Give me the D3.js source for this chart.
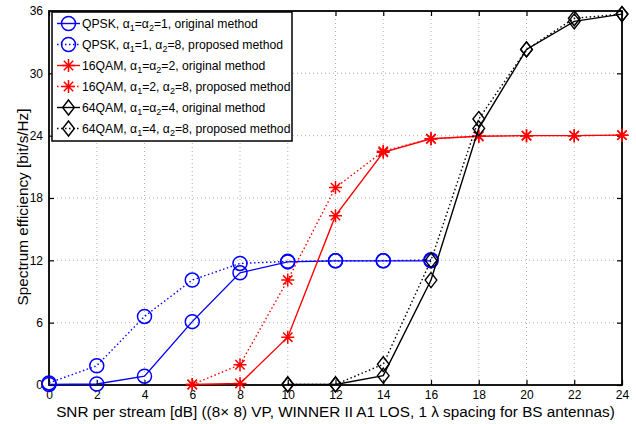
<!DOCTYPE html>
<html>
<head>
<meta charset="utf-8">
<script src="https://cdn.jsdelivr.net/npm/d3@7"></script>
<style>
  html, body { margin: 0; padding: 0; background: #fff; }
  svg { display: block; font-family: "Liberation Sans", Arial, Helvetica, sans-serif; }
</style>
</head>
<body>
<svg id="chart" width="636" height="424"></svg>
<script>
// SNR grid points [dB]
const snrQpsk = [0, 2, 4, 6, 8, 10, 12, 14, 16];
const snr16 = [6, 8, 10, 12, 14, 16, 18, 20, 22, 24];
const snr64 = [10, 12, 14, 16, 18, 20, 22, 24];

// Spectrum efficiency [bit/s/Hz]
const qpskOriginal = [0.05, 0.1, 0.85, 6.1, 10.8, 11.85, 11.95, 11.95, 11.95];
const qpskProposed = [0.2, 1.85, 6.6, 10.1, 11.7, 11.9, 11.95, 11.95, 12.05];
const qam16Original = [0.05, 0.15, 4.6, 16.3, 22.4, 23.7, 23.95, 24.0, 24.0, 24.05];
const qam16Proposed = [0.05, 1.95, 10.1, 19.0, 22.5, 23.7, 23.95, 24.0, 24.0, 24.05];
const qam64Original = [0.05, 0.05, 0.9, 10.1, 24.7, 32.3, 35.0, 35.7];
const qam64Proposed = [0.05, 0.05, 2.0, 12.0, 25.6, 32.3, 35.3, 35.7];

const xTicks = [0, 2, 4, 6, 8, 10, 12, 14, 16, 18, 20, 22, 24];
const yTicks = [0, 6, 12, 18, 24, 30, 36];

const series = [
  { x: snrQpsk, y: qpskOriginal, color: "#0000ff", dash: null, marker: "circle",
    label: ["QPSK, α", "1", "=α", "2", "=1, original method"] },
  { x: snrQpsk, y: qpskProposed, color: "#0000ff", dash: "1.5,2.5", marker: "circle",
    label: ["QPSK, α", "1", "=1, α", "2", "=8, proposed method"] },
  { x: snr16, y: qam16Original, color: "#ff0000", dash: null, marker: "star",
    label: ["16QAM, α", "1", "=α", "2", "=2, original method"] },
  { x: snr16, y: qam16Proposed, color: "#ff0000", dash: "1.5,2.5", marker: "star",
    label: ["16QAM, α", "1", "=2, α", "2", "=8, proposed method"] },
  { x: snr64, y: qam64Original, color: "#000000", dash: null, marker: "diamond",
    label: ["64QAM, α", "1", "=α", "2", "=4, original method"] },
  { x: snr64, y: qam64Proposed, color: "#000000", dash: "1.5,2.5", marker: "diamond",
    label: ["64QAM, α", "1", "=4, α", "2", "=8, proposed method"] }
];

const plot = { left: 49, right: 622, top: 11, bottom: 385 };
const svg = d3.select("#chart");

const x = d3.scaleLinear().domain([0, 24]).range([plot.left, plot.right]);
const y = d3.scaleLinear().domain([0, 36]).range([plot.bottom, plot.top]);

// dotted grid
const grid = svg.append("g");
grid.selectAll("line.gx").data(xTicks.slice(1, -1)).join("line")
  .attr("x1", d => x(d)).attr("x2", d => x(d))
  .attr("y1", plot.top).attr("y2", plot.bottom)
  .attr("stroke", "#b0b0b0").attr("stroke-width", 1).attr("stroke-dasharray", "1,3");
grid.selectAll("line.gy").data(yTicks.slice(1, -1)).join("line")
  .attr("x1", plot.left).attr("x2", plot.right)
  .attr("y1", d => y(d)).attr("y2", d => y(d))
  .attr("stroke", "#b0b0b0").attr("stroke-width", 1).attr("stroke-dasharray", "1,3");

// axes with inward ticks
const tickLen = 5;
const axB = svg.append("g").attr("transform", `translate(0,${plot.bottom})`)
  .call(d3.axisBottom(x).tickValues(xTicks).tickSize(-tickLen).tickPadding(5).tickFormat(d3.format("d")));
const axT = svg.append("g").attr("transform", `translate(0,${plot.top})`)
  .call(d3.axisTop(x).tickValues(xTicks).tickSize(-tickLen).tickFormat(""));
const axL = svg.append("g").attr("transform", `translate(${plot.left},0)`)
  .call(d3.axisLeft(y).tickValues(yTicks).tickSize(-tickLen).tickPadding(6).tickFormat(d3.format("d")));
const axR = svg.append("g").attr("transform", `translate(${plot.right},0)`)
  .call(d3.axisRight(y).tickValues(yTicks).tickSize(-tickLen).tickFormat(""));
[axB, axT, axL, axR].forEach(a => {
  a.select(".domain").remove();
  a.selectAll(".tick line").attr("stroke", "#000").attr("stroke-width", 1.2);
  a.selectAll(".tick text").attr("font-size", 12).attr("fill", "#000")
    .attr("font-family", "'Liberation Sans', Arial, sans-serif");
});

// frame
svg.append("rect")
  .attr("x", plot.left).attr("y", plot.top)
  .attr("width", plot.right - plot.left).attr("height", plot.bottom - plot.top)
  .attr("fill", "none").attr("stroke", "#000").attr("stroke-width", 1.8);

// marker shapes
function drawMarker(g, type, color, cx, cy, scale) {
  const s = scale || 1;
  if (type === "circle") {
    g.append("circle").attr("cx", cx).attr("cy", cy).attr("r", 7 * s)
      .attr("fill", "none").attr("stroke", color).attr("stroke-width", 1.5);
  } else if (type === "diamond") {
    const r = 7.5 * s;
    g.append("path")
      .attr("d", `M${cx},${cy - r}L${cx + r * 0.78},${cy}L${cx},${cy + r}L${cx - r * 0.78},${cy}Z`)
      .attr("fill", "none").attr("stroke", color).attr("stroke-width", 1.4);
  } else if (type === "star") {
    const r = 6.5 * s;
    const d = r * 0.72;
    g.append("path")
      .attr("d", `M${cx - r},${cy}H${cx + r}M${cx},${cy - r}V${cy + r}` +
        `M${cx - d},${cy - d}L${cx + d},${cy + d}M${cx - d},${cy + d}L${cx + d},${cy - d}`)
      .attr("fill", "none").attr("stroke", color).attr("stroke-width", 1.5);
  }
}

// series
const line = d3.line().x(d => x(d[0])).y(d => y(d[1]));
const plotG = svg.append("g");
series.forEach(s => {
  const pts = s.x.map((v, i) => [v, s.y[i]]);
  plotG.append("path").attr("d", line(pts))
    .attr("fill", "none").attr("stroke", s.color).attr("stroke-width", 1.4)
    .attr("stroke-dasharray", s.dash);
  const mg = plotG.append("g");
  pts.forEach(p => drawMarker(mg, s.marker, s.color, x(p[0]), y(p[1])));
});

// axis titles
svg.append("text")
  .attr("x", (plot.left + plot.right) / 2).attr("y", 417)
  .attr("text-anchor", "middle").attr("font-size", 15.3).attr("fill", "#000")
  .text("SNR per stream [dB] ((8× 8) VP, WINNER II A1 LOS, 1 λ spacing for BS antennas)");
svg.append("text")
  .attr("transform", "translate(27.5,207) rotate(-90)")
  .attr("text-anchor", "middle").attr("font-size", 15.3).attr("fill", "#000")
  .text("Spectrum efficiency [bit/s/Hz]");

// legend
const leg = { x: 52, y: 12, w: 240, h: 129, row: 21, first: 11.5 };
const lg = svg.append("g");
lg.append("rect").attr("x", leg.x).attr("y", leg.y).attr("width", leg.w).attr("height", leg.h)
  .attr("fill", "#fff").attr("stroke", "#000").attr("stroke-width", 1.5);
series.forEach((s, i) => {
  const cy = leg.y + leg.first + i * leg.row;
  lg.append("line").attr("x1", leg.x + 5).attr("x2", leg.x + 28)
    .attr("y1", cy).attr("y2", cy)
    .attr("stroke", s.color).attr("stroke-width", 1.4).attr("stroke-dasharray", s.dash);
  drawMarker(lg, s.marker, s.color, leg.x + 16.5, cy, 1);
  const t = lg.append("text").attr("x", leg.x + 30).attr("y", cy + 4.5)
    .attr("font-size", 12.2).attr("fill", "#000");
  s.label.forEach((part, k) => {
    const sub = k % 2 === 1;
    t.append("tspan").text(part)
      .attr("font-size", sub ? 9 : 12.2)
      .attr("dy", sub ? 3 : (k > 0 ? -3 : 0));
  });
});
</script>
</body>
</html>
